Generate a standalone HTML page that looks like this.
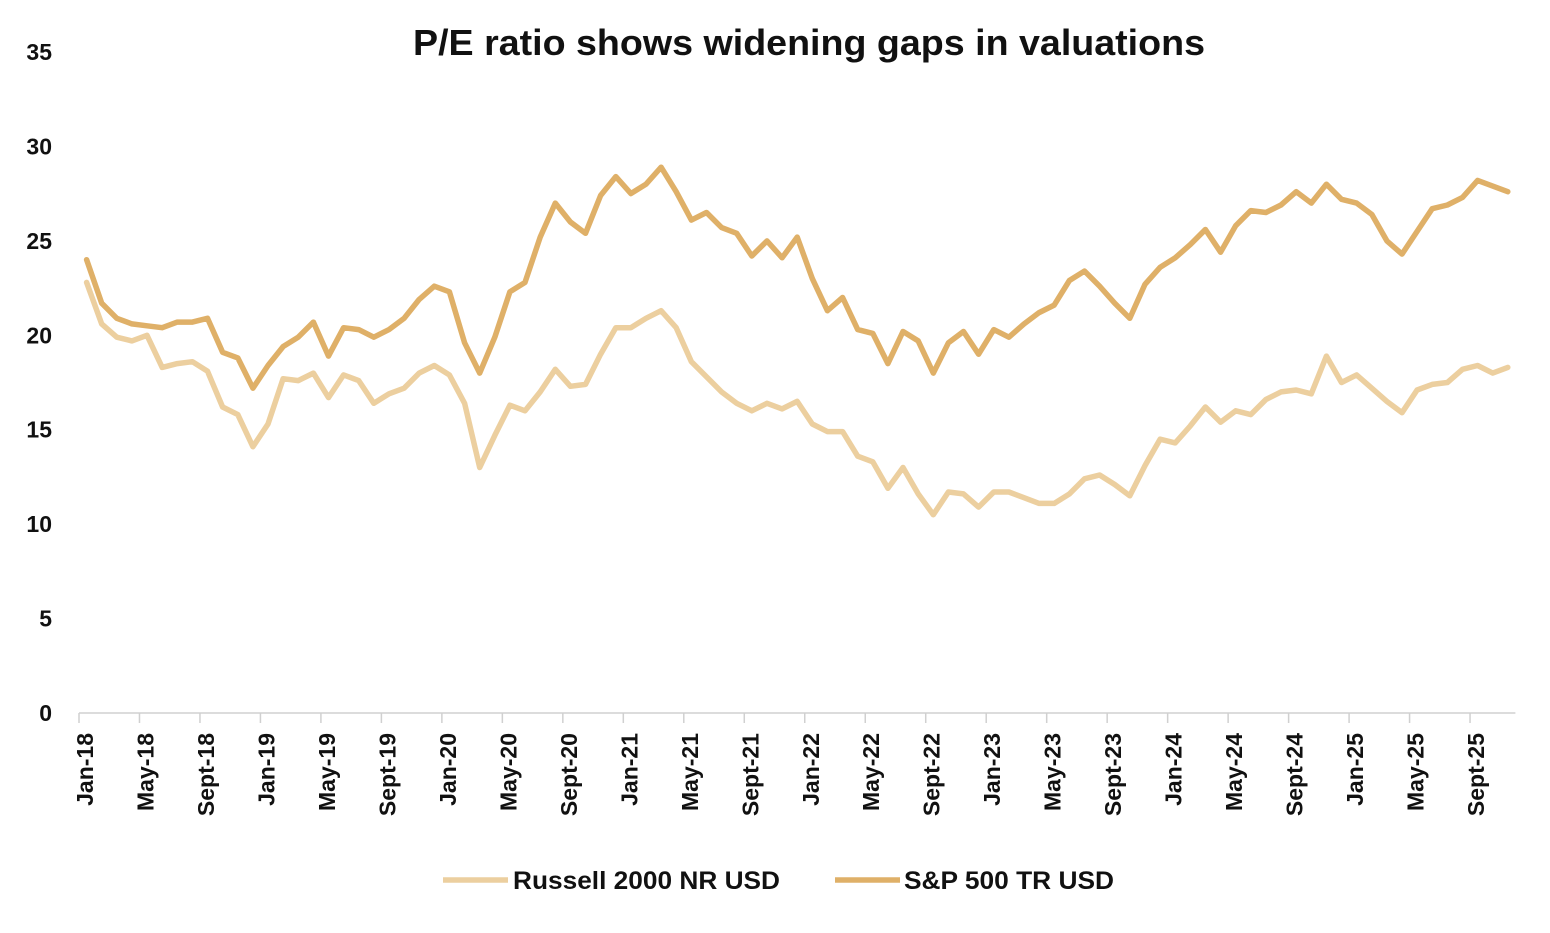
<!DOCTYPE html>
<html><head><meta charset="utf-8"><style>
html,body{margin:0;padding:0;background:#fff}
svg text{font-family:"Liberation Sans",Arial,sans-serif;font-weight:bold;fill:#111}
</style></head><body>
<svg id="chart" width="1550" height="928" xmlns="http://www.w3.org/2000/svg">
<text x="809" y="55" text-anchor="middle" font-size="36" textLength="792" lengthAdjust="spacingAndGlyphs">P/E ratio shows widening gaps in valuations</text>
<g id="yaxis"></g>
<g id="xaxis"></g>
<g id="series"></g>
<g>
<line x1="443" y1="880" x2="508" y2="880" stroke="#eccf9f" stroke-width="5.5"/>
<text x="513" y="889" font-size="25" textLength="267" lengthAdjust="spacingAndGlyphs">Russell 2000 NR USD</text>
<line x1="835" y1="880" x2="900" y2="880" stroke="#dfb068" stroke-width="5.5"/>
<text x="904" y="889" font-size="25" textLength="210" lengthAdjust="spacingAndGlyphs">S&amp;P 500 TR USD</text>
</g>
</svg>
<script>
const yTicks=[0,5,10,15,20,25,30,35];
const xLabels=["Jan-18","May-18","Sept-18","Jan-19","May-19","Sept-19","Jan-20","May-20","Sept-20","Jan-21","May-21","Sept-21","Jan-22","May-22","Sept-22","Jan-23","May-23","Sept-23","Jan-24","May-24","Sept-24","Jan-25","May-25","Sept-25"];
const sp500=[24.0,21.7,20.9,20.6,20.5,20.4,20.7,20.7,20.9,19.1,18.8,17.2,18.4,19.4,19.9,20.7,18.9,20.4,20.3,19.9,20.3,20.9,21.9,22.6,22.3,19.6,18.0,19.9,22.3,22.8,25.2,27.0,26.0,25.4,27.4,28.4,27.5,28.0,28.9,27.6,26.1,26.5,25.7,25.4,24.2,25.0,24.1,25.2,23.0,21.3,22.0,20.3,20.1,18.5,20.2,19.7,18.0,19.6,20.2,19.0,20.3,19.9,20.6,21.2,21.6,22.9,23.4,22.6,21.7,20.9,22.7,23.6,24.1,24.8,25.6,24.4,25.8,26.6,26.5,26.9,27.6,27.0,28.0,27.2,27.0,26.4,25.0,24.3,25.5,26.7,26.9,27.3,28.2,27.9,27.6];
const russell=[22.8,20.6,19.9,19.7,20.0,18.3,18.5,18.6,18.1,16.2,15.8,14.1,15.3,17.7,17.6,18.0,16.7,17.9,17.6,16.4,16.9,17.2,18.0,18.4,17.9,16.4,13.0,14.7,16.3,16.0,17.0,18.2,17.3,17.4,19.0,20.4,20.4,20.9,21.3,20.4,18.6,17.8,17.0,16.4,16.0,16.4,16.1,16.5,15.3,14.9,14.9,13.6,13.3,11.9,13.0,11.6,10.5,11.7,11.6,10.9,11.7,11.7,11.4,11.1,11.1,11.6,12.4,12.6,12.1,11.5,13.1,14.5,14.3,15.2,16.2,15.4,16.0,15.8,16.6,17.0,17.1,16.9,18.9,17.5,17.9,17.2,16.5,15.9,17.1,17.4,17.5,18.2,18.4,18.0,18.3];
const NS="http://www.w3.org/2000/svg";
const x0=79,step=15.12,y0=713,yPer=18.886;
function xCat(i){return x0+step*(i+0.5);}
function xEdge(i){return x0+step*i;}
function yVal(v){return y0-v*yPer;}
function mk(tag,attrs,parent){const e=document.createElementNS(NS,tag);for(const k in attrs)e.setAttribute(k,attrs[k]);parent.appendChild(e);return e;}
const ya=document.getElementById('yaxis'),xa=document.getElementById('xaxis'),sg=document.getElementById('series');
yTicks.forEach(t=>{const e=mk('text',{x:52,y:yVal(t)+8,'text-anchor':'end','font-size':'23'},ya);


e.textContent=t;});
const n=sp500.length;
const ax=mk('line',{x1:x0,y1:y0,x2:xEdge(n),y2:y0,stroke:'#d0d0d0','stroke-width':'1.5'},xa);


for(let i=0;i<=n;i+=4){const tk=mk('line',{x1:xEdge(i),y1:y0,x2:xEdge(i),y2:y0+10,stroke:'#d0d0d0','stroke-width':'1.5'},xa);

}
xLabels.forEach((l,k)=>{const cx=xEdge(k*4)+14,cy=733;const e=mk('text',{x:cx,y:cy,'text-anchor':'end','font-size':'23',transform:`rotate(-90 ${cx} ${cy})`},xa);


e.textContent=l;});
function line(arr,color,name){const d=arr.map((v,i)=>(i?'L':'M')+xCat(i).toFixed(1)+' '+yVal(v).toFixed(1)).join(' ');
const p=mk('path',{d:d,fill:'none',stroke:color,'stroke-width':'5.5','stroke-linejoin':'round','stroke-linecap':'round'},sg);

}
line(russell,'#eccf9f','russell-2000-line');
line(sp500,'#dfb068','sp500-line');
</script>
</body></html>
